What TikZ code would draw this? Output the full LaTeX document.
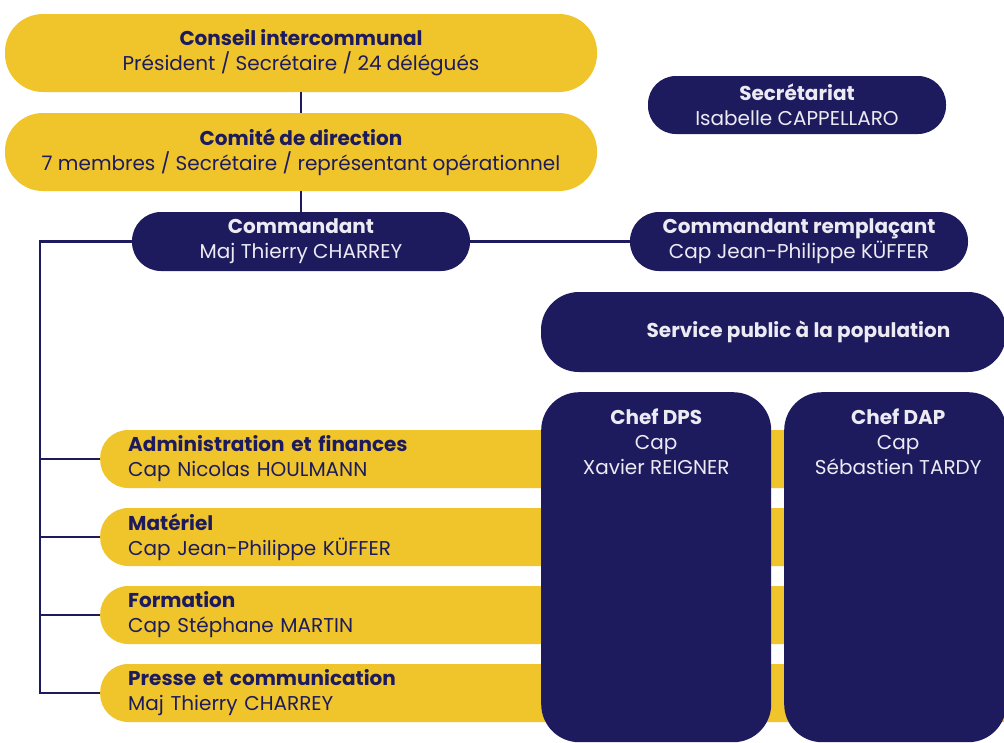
\documentclass[tikz,border=0pt]{standalone}
\usepackage{fontspec}
\setmainfont{Poppins}
\definecolor{navy}{HTML}{1D1B5E}
\definecolor{gold}{HTML}{EFC52B}
\definecolor{paper}{HTML}{ECEAF2}
\begin{document}
\begin{tikzpicture}[x=1pt,y=-1pt,
  txt/.style={font=\fontsize{20}{25}\selectfont},
  ybox/.style={txt, fill=gold, text=navy, inner sep=0pt, align=center},
  nbox/.style={txt, fill=navy, text=paper, inner sep=0pt, align=center},
  bar/.style={txt, fill=gold, text=navy, anchor=west, minimum width=1000pt, minimum height=58pt,
    rounded corners=28pt, inner xsep=28pt, inner ysep=0pt, text width=944pt, align=left},
  link/.style={draw=navy, line width=2.4pt}]
\useasboundingbox (0,0) rectangle (1004,742);
\clip (0,0) rectangle (1004,742);
\fill[white] (0,0) rectangle (1004,742);

% top
\node[ybox, minimum width=592pt, minimum height=78pt, rounded corners=38pt] (conseil) at (301,53)
  {\textbf{Conseil intercommunal}\\Président / Secrétaire / 24 délégués};
\node[ybox, minimum width=592pt, minimum height=78pt, rounded corners=38pt] (comite) at (301,152)
  {\textbf{Comité de direction}\\7 membres / Secrétaire / représentant opérationnel};
\node[nbox, minimum width=338pt, minimum height=59pt, rounded corners=29pt] (cmd) at (301,241.5)
  {\textbf{Commandant}\\Maj Thierry CHARREY};
\node[nbox, minimum width=338pt, minimum height=59pt, rounded corners=29pt] (rempl) at (799,241.5)
  {\textbf{Commandant remplaçant}\\Cap Jean-Philippe KÜFFER};
\node[nbox, minimum width=298pt, minimum height=58pt, rounded corners=28pt] (secr) at (797,105)
  {\textbf{Secrétariat}\\Isabelle CAPPELLARO};

\draw[link] (conseil.south) -- (comite.north);
\draw[link] (comite.south) -- (cmd.north);
\draw[link] (cmd.east) -- (rempl.west);

% bars
\node[bar] (admin) at (100,459) {\textbf{Administration et finances}\\Cap Nicolas HOULMANN};
\node[bar] (mat) at (100,537) {\textbf{Matériel}\\Cap Jean-Philippe KÜFFER};
\node[bar] (form) at (100,615) {\textbf{Formation}\\Cap Stéphane MARTIN};
\node[bar] (presse) at (100,693) {\textbf{Presse et communication}\\Maj Thierry CHARREY};

\coordinate (spine) at (40,0);
\draw[link] (cmd.west) -- (cmd.west -| spine) -- (presse.west -| spine) -- (presse.west);
\foreach \b in {admin,mat,form}
  \draw[link] (\b.west -| spine) -- (\b.west);

% service public
\node[nbox, minimum width=465pt, minimum height=80pt, rounded corners=38pt] (service) at (773.5,332)
  {\hspace*{50pt}\textbf{Service public à la population}};

\node[nbox, anchor=north west, minimum width=230pt, minimum height=350pt, rounded corners=38pt,
  label={[txt, text=paper, align=center, anchor=north, yshift=-13pt]north:{\textbf{Chef DPS}\\Cap\\Xavier REIGNER}}]
  (dps) at (541,392) {};
\node[nbox, anchor=north west, minimum width=222pt, minimum height=350pt, rounded corners=38pt,
  label={[txt, text=paper, align=center, anchor=north, yshift=-13pt, xshift=3pt]north:{\textbf{Chef DAP}\\Cap\\Sébastien TARDY}}]
  (dap) at (784,392) {};
\end{tikzpicture}
\end{document}
